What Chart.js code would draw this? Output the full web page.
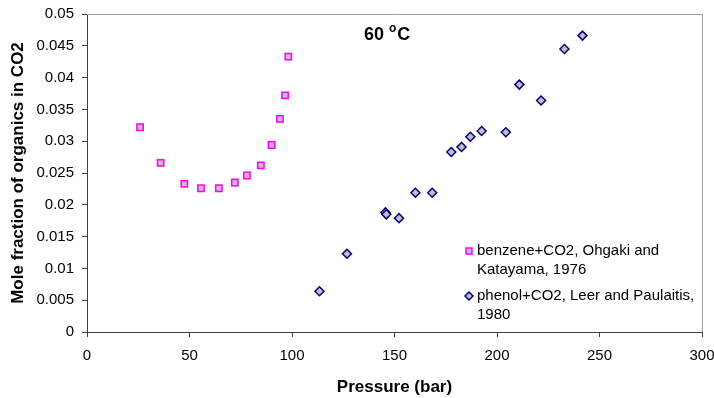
<!DOCTYPE html>
<html>
<head>
<meta charset="utf-8">
<script src="https://cdn.jsdelivr.net/npm/chart.js@4"></script>
<style>
  html, body { margin: 0; padding: 0; background: #fff; }
  #wrap { width: 714px; height: 398px; }
</style>
</head>
<body>
<div id="wrap"><canvas id="solubilityChart" width="714" height="398"></canvas></div>
<script>
// benzene+CO2 (Ohgaki and Katayama, 1976)
const benzenePressure = [25.9, 35.9, 47.5, 55.6, 64.3, 72.1, 78.0, 84.8, 90.0, 94.1, 96.6, 98.2];
const benzeneFraction = [0.0322, 0.0266, 0.0233, 0.0226, 0.0226, 0.0235, 0.0246, 0.0262, 0.0294, 0.0335, 0.0372, 0.0433];

// phenol+CO2 (Leer and Paulaitis, 1980)
const phenolPressure = [113.4, 126.8, 145.6, 146.0, 152.2, 160.2, 168.4, 177.7, 182.7, 187.0, 192.5, 204.3, 210.9, 221.5, 232.9, 241.7];
const phenolFraction = [0.0064, 0.0123, 0.0188, 0.0185, 0.0179, 0.0219, 0.0219, 0.0283, 0.0291, 0.0307, 0.0316, 0.0314, 0.0389, 0.0364, 0.0445, 0.0466];

const seriesLabels = [
    ['benzene+CO2, Ohgaki and', 'Katayama, 1976'],
    ['phenol+CO2, Leer and Paulaitis,', '1980']
];

const FONT = '"Liberation Sans", Arial, sans-serif';

function toPoints(xs, ys) {
    return xs.map((x, i) => ({ x: x, y: ys[i] }));
}

// frame on top/right, title and in-plot legend
const extrasPlugin = {
    id: 'extras',
    afterDraw(chart) {
        const ctx = chart.ctx;
        const a = chart.chartArea;
        ctx.save();
        ctx.strokeStyle = '#a0a0a0';
        ctx.lineWidth = 1;
        ctx.beginPath();
        ctx.moveTo(a.left, a.top + 0.5);
        ctx.lineTo(a.right + 0.5, a.top + 0.5);
        ctx.lineTo(a.right + 0.5, a.bottom);
        ctx.stroke();

        // "60 °C"
        ctx.fillStyle = '#000';
        ctx.textBaseline = 'alphabetic';
        ctx.textAlign = 'left';
        ctx.font = 'bold 18px ' + FONT;
        let tx = 364;
        ctx.fillText('60 ', tx, 40);
        tx += ctx.measureText('60 ').width;
        ctx.font = 'bold 12px ' + FONT;
        ctx.fillText('o', tx, 32);
        tx += ctx.measureText('o').width + 1;
        ctx.font = 'bold 18px ' + FONT;
        ctx.fillText('C', tx, 40);

        // legend
        ctx.font = '15px ' + FONT;
        ctx.textBaseline = 'middle';
        const rows = [251, 296];
        chart.data.datasets.forEach((ds, i) => {
            const my = rows[i];
            ctx.fillStyle = ds.backgroundColor;
            ctx.strokeStyle = ds.borderColor;
            ctx.lineWidth = ds.borderWidth;
            ctx.beginPath();
            if (ds.pointStyle === 'rect') {
                ctx.rect(466, my - 3, 6, 6);
            } else {
                ctx.moveTo(469, my - 4);
                ctx.lineTo(473, my);
                ctx.lineTo(469, my + 4);
                ctx.lineTo(465, my);
                ctx.closePath();
            }
            ctx.fill();
            ctx.stroke();
            ctx.fillStyle = '#000';
            seriesLabels[i].forEach((line, j) => {
                ctx.fillText(line, 477, my + j * 18.5);
            });
        });
        ctx.restore();
    }
};

const solubilityCtx = document.getElementById('solubilityChart').getContext('2d');
new Chart(solubilityCtx, {
    type: 'scatter',
    data: {
        datasets: [{
            label: seriesLabels[0].join(' '),
            data: toPoints(benzenePressure, benzeneFraction),
            pointStyle: 'rect',
            pointRadius: 4.5,
            pointHoverRadius: 4.5,
            backgroundColor: '#c0c0c0',
            borderColor: '#ff00ff',
            borderWidth: 1.5
        }, {
            label: seriesLabels[1].join(' '),
            data: toPoints(phenolPressure, phenolFraction),
            pointStyle: 'rectRot',
            pointRadius: 4.5,
            pointHoverRadius: 4.5,
            backgroundColor: '#c0c0c0',
            borderColor: '#000080',
            borderWidth: 1.5
        }]
    },
    options: {
        responsive: false,
        animation: false,
        layout: {
            padding: { top: 14, right: 12, left: 0, bottom: 0 }
        },
        plugins: {
            legend: { display: false },
            tooltip: { enabled: false }
        },
        scales: {
            x: {
                type: 'linear',
                min: 0,
                max: 300,
                afterFit(axis) {
                    axis.height = 66;
                    axis.paddingLeft = 0;
                    axis.paddingRight = 0;
                },
                ticks: {
                    stepSize: 50,
                    color: '#000',
                    padding: 10,
                    font: { family: FONT, size: 15 }
                },
                grid: {
                    drawOnChartArea: false,
                    tickLength: 5,
                    color: '#404040'
                },
                border: { color: '#404040', width: 1 },
                title: {
                    display: true,
                    text: 'Pressure (bar)',
                    color: '#000',
                    font: { family: FONT, size: 17, weight: 'bold' },
                    padding: { top: 6, bottom: 0 }
                }
            },
            y: {
                type: 'linear',
                min: 0,
                max: 0.05,
                afterFit(axis) {
                    axis.width = 87;
                    axis.paddingTop = 0;
                    axis.paddingBottom = 0;
                },
                ticks: {
                    stepSize: 0.005,
                    color: '#000',
                    padding: 8,
                    font: { family: FONT, size: 15 },
                    callback: v => String(parseFloat(v.toFixed(3)))
                },
                grid: {
                    drawOnChartArea: false,
                    tickLength: 5,
                    color: '#404040'
                },
                border: { color: '#404040', width: 1 },
                title: {
                    display: true,
                    text: 'Mole fraction of organics in CO2',
                    color: '#000',
                    font: { family: FONT, size: 17, weight: 'bold' },
                    padding: { top: 8, bottom: 0 }
                }
            }
        }
    },
    plugins: [extrasPlugin]
});
</script>
</body>
</html>
